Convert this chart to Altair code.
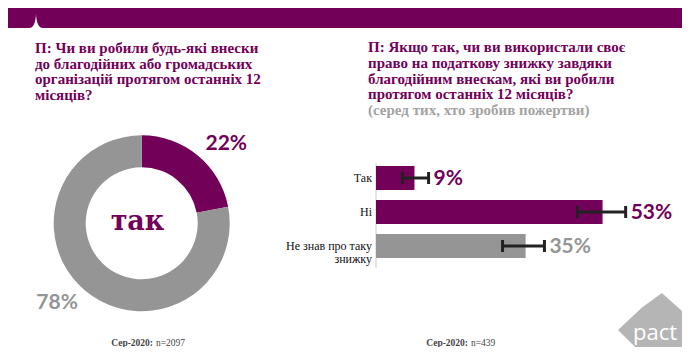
import altair as alt
import pandas as pd

PURPLE = "#730058"
GRAY = "#959595"
DARK = "#222222"

# ---- data ----
donut_labels = ["так", "ні"]
donut_values = [22, 78]
donut_text = ["22%", "78%"]

bar_categories = ["Так", "Ні", "Не знав про таку\nзнижку"]
bar_values = [9, 53, 35]
err_low = [6.2, 47.1, 29.6]
err_high = [12.3, 58.4, 39.4]
bar_text = ["9%", "53%", "35%"]

left_title = "П: Чи ви робили будь-які внески\nдо благодійних або громадських\nорганізацій протягом останніх 12\nмісяців?"
right_title = "П: Якщо так, чи ви використали своє\nправо на податкову знижку завдяки\nблагодійним внескам, які ви робили\nпротягом останніх 12 місяців?"
right_subtitle = "(серед тих, хто зробив пожертви)"
left_footer = ["Сер-2020:", "n=2097"]
right_footer = ["Сер-2020:", "n=439"]
center_word = "так"
logo_word = "pact"

W, H = 674, 339
SERIF = "Liberation Serif"
SANS = "Lato"

donut_df = pd.DataFrame({"label": donut_labels, "value": donut_values,
                         "text": donut_text, "order": list(range(len(donut_labels)))})
bar_df = pd.DataFrame({"cat": bar_categories, "value": bar_values,
                       "lo": err_low, "hi": err_high, "text": bar_text})
one = pd.DataFrame({"a": [0]})


def txt(s):
    return alt.Chart(pd.DataFrame({"t": [s]}))


# ---- decorations ----
band = alt.Chart(one).mark_rect(color=PURPLE).encode(
    x=alt.value(0), x2=alt.value(W), y=alt.value(0), y2=alt.value(20))
notch = alt.Chart(one).mark_point(
    shape="M-1,1 Q-0.1,1 0,-1 Q0.1,1 1,1 Z", filled=True, color="white",
    opacity=1, size=196, strokeWidth=0).encode(x=alt.value(28), y=alt.value(13))

TFS = 15
ltitle = txt(left_title).mark_text(
    align="left", baseline="alphabetic", font=SERIF, fontSize=TFS, fontWeight="bold",
    color=PURPLE, lineBreak="\n", lineHeight=15.5).encode(
    x=alt.value(27), y=alt.value(45), text="t:N")
rtitle = txt(right_title).mark_text(
    align="left", baseline="alphabetic", font=SERIF, fontSize=TFS, fontWeight="bold",
    color=PURPLE, lineBreak="\n", lineHeight=15.8).encode(
    x=alt.value(360), y=alt.value(44), text="t:N")
rsub = txt(right_subtitle).mark_text(
    align="left", baseline="alphabetic", font=SERIF, fontSize=TFS, fontWeight="bold",
    color="#a3a3a3").encode(x=alt.value(360), y=alt.value(107.2), text="t:N")

# ---- donut ----
CX, CY = 133.7, 215.3
color_donut = alt.Color("label:N", scale=alt.Scale(domain=donut_labels, range=[PURPLE, GRAY]),
                        legend=None)
arc = alt.Chart(donut_df).mark_arc(innerRadius=56, outerRadius=88).encode(
    theta=alt.Theta("value:Q", stack=True, scale=alt.Scale(domain=[0, 100])),
    order=alt.Order("order:Q"),
    color=color_donut,
    x=alt.value(CX), y=alt.value(CY))
donut_lbl = alt.Chart(donut_df).transform_window(
    cum="sum(value)", sort=[alt.SortField("order")], frame=[None, 0]
).transform_calculate(pos="datum.cum - datum.value / 2 + 2").mark_text(
    font=SANS, fontSize=21, fontWeight="bold", align="center", baseline="middle").encode(
    theta=alt.Theta("pos:Q", stack=None, scale=alt.Scale(domain=[0, 100])),
    radius=alt.value(116),
    text="text:N",
    color=color_donut,
    x=alt.value(CX), y=alt.value(CY))
center_txt = txt(center_word).mark_text(
    font="DejaVu Serif", fontSize=27, fontWeight="bold", color=PURPLE,
    align="center", baseline="middle").encode(x=alt.value(129.5), y=alt.value(214), text="t:N")


def footer(parts, xsplit):
    a = txt(parts[0]).mark_text(font=SERIF, fontSize=9.5, fontWeight="bold", color="#444444",
                                align="right", baseline="alphabetic").encode(
        x=alt.value(xsplit - 1), y=alt.value(337.5), text="t:N")
    b = txt(parts[1]).mark_text(font=SERIF, fontSize=9.5, color="#444444",
                                align="left", baseline="alphabetic").encode(
        x=alt.value(xsplit + 2), y=alt.value(337.5), text="t:N")
    return a + b


lfoot = footer(left_footer, 146)
rfoot = footer(right_footer, 461)

# ---- bars ----
X0 = 368
PX = 4.275
xs = alt.Scale(domain=[0, 60], range=[X0, X0 + 60 * PX])
ys = alt.Scale(domain=bar_categories, range=[153, 255], paddingInner=0.29, paddingOuter=0.145)
xenc = lambda f: alt.X(f, type="quantitative", scale=xs, axis=None)
yenc = alt.Y("cat:N", scale=ys, sort=bar_categories, axis=None)

axis_line = alt.Chart(one).mark_rule(color="#cccccc", strokeWidth=1).encode(
    x=alt.value(X0), y=alt.value(155), y2=alt.value(260))
bars = alt.Chart(bar_df).mark_bar().encode(
    x=xenc("value"), y=yenc,
    color=alt.Color("cat:N", scale=alt.Scale(domain=bar_categories, range=[PURPLE, PURPLE, GRAY]),
                    legend=None))
err = alt.Chart(bar_df).mark_rule(color=DARK, strokeWidth=3).encode(
    x=xenc("lo"), x2="hi:Q", y=yenc)
cap_lo = alt.Chart(bar_df).mark_tick(color=DARK, thickness=3, size=12, opacity=1).encode(
    x=xenc("lo"), y=yenc)
cap_hi = alt.Chart(bar_df).mark_tick(color=DARK, thickness=3, size=12, opacity=1).encode(
    x=xenc("hi"), y=yenc)
val_lbl = alt.Chart(bar_df).mark_text(
    font=SANS, fontSize=21, fontWeight="bold", align="left", baseline="middle", dx=5, dy=1).encode(
    x=xenc("hi"), y=yenc, text="text:N",
    color=alt.Color("cat:N", scale=alt.Scale(domain=bar_categories, range=[PURPLE, PURPLE, GRAY]),
                    legend=None))
cat_lbl = alt.Chart(bar_df).mark_text(
    font=SERIF, fontSize=12, color="#111111", align="right", baseline="middle",
    lineBreak="\n", lineHeight=13).encode(
    x=alt.value(364), y=yenc, text="cat:N")

# ---- logo ----
logo = alt.Chart(one).mark_point(
    shape="M-1,0.16 L-0.3,-0.5 L-0.25,-0.55 L0.37,-1 L1,-0.44 L1,1 L-0.3,1 L-0.3,0.85 Z",
    filled=True, color="#b5b5b5", opacity=1, size=4096, strokeWidth=0).encode(
    x=alt.value(642), y=alt.value(317))
logo_txt = txt(logo_word).mark_text(
    font="Open Sans", fontSize=22, color="white", align="center", baseline="alphabetic").encode(
    x=alt.value(647), y=alt.value(332), text="t:N")

chart = alt.layer(
    band, notch, ltitle, rtitle, rsub,
    arc, donut_lbl, center_txt, lfoot, rfoot,
    axis_line, bars, err, cap_lo, cap_hi, val_lbl, cat_lbl,
    logo, logo_txt
).resolve_scale(color="independent").properties(
    width=W, height=H, padding=0, autosize=alt.AutoSizeParams(type="none")
).configure_view(stroke=None)

chart.save("out.html", embed_options={"renderer": "svg", "actions": False})
